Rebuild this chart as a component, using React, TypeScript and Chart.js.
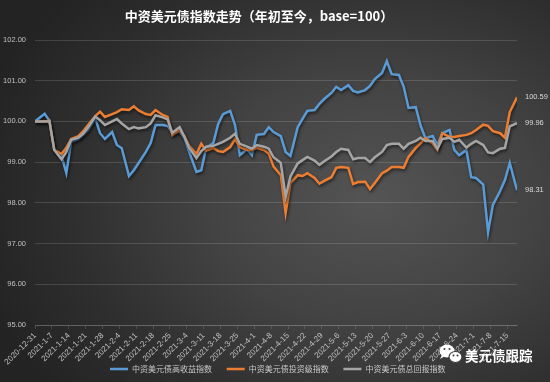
import React, { useEffect, useRef } from 'react';
import { Chart, registerables } from 'chart.js';

Chart.register(...registerables);

const title = '中资美元债指数走势（年初至今，base=100）';
const watermark = '美元债跟踪';

const dates = [
  '2020-12-31',
  '2021-1-4', '2021-1-6', '2021-1-8',
  '2021-1-11', '2021-1-13', '2021-1-15',
  '2021-1-18', '2021-1-20', '2021-1-22',
  '2021-1-25', '2021-1-27', '2021-1-29',
  '2021-2-1', '2021-2-3', '2021-2-5',
  '2021-2-8', '2021-2-10', '2021-2-12',
  '2021-2-15', '2021-2-17', '2021-2-19',
  '2021-2-22', '2021-2-24', '2021-2-26',
  '2021-3-1', '2021-3-3', '2021-3-5',
  '2021-3-8', '2021-3-10', '2021-3-12',
  '2021-3-15', '2021-3-17', '2021-3-19',
  '2021-3-22', '2021-3-24', '2021-3-26',
  '2021-3-29', '2021-3-31', '2021-4-2',
  '2021-4-5', '2021-4-7', '2021-4-9',
  '2021-4-12', '2021-4-14', '2021-4-16',
  '2021-4-19', '2021-4-21', '2021-4-23',
  '2021-4-26', '2021-4-28', '2021-4-30',
  '2021-5-3', '2021-5-5', '2021-5-7',
  '2021-5-10', '2021-5-12', '2021-5-14',
  '2021-5-17', '2021-5-19', '2021-5-21',
  '2021-5-24', '2021-5-26', '2021-5-28',
  '2021-5-31', '2021-6-2', '2021-6-4',
  '2021-6-7', '2021-6-9', '2021-6-11',
  '2021-6-14', '2021-6-16', '2021-6-18',
  '2021-6-21', '2021-6-23', '2021-6-25',
  '2021-6-28', '2021-6-30', '2021-7-2',
  '2021-7-5', '2021-7-7', '2021-7-9',
  '2021-7-12', '2021-7-14', '2021-7-16',
  '2021-7-19',
];

const tickLabels = [
  '2020-12-31', '2021-1-7', '2021-1-14', '2021-1-21', '2021-1-28',
  '2021-2-4', '2021-2-11', '2021-2-18', '2021-2-25', '2021-3-4',
  '2021-3-11', '2021-3-18', '2021-3-25', '2021-4-1', '2021-4-8',
  '2021-4-15', '2021-4-22', '2021-4-29', '2021-5-6', '2021-5-13',
  '2021-5-20', '2021-5-27', '2021-6-3', '2021-6-10', '2021-6-17',
  '2021-6-24', '2021-7-1', '2021-7-8', '2021-7-15',
];

const seriesNames = ['中资美元债高收益指数', '中资美元债投资级指数', '中资美元债总回报指数'];

const highYield = [
  100.00,
  100.19, 100.02, 99.30,
  99.15, 98.73, 99.50,
  99.57, 99.67, 99.79,
  100.07, 99.71, 99.57,
  99.74, 99.42, 99.34,
  98.66, 98.80, 98.98,
  99.25, 99.47, 99.91,
  99.91, 99.89, 99.72,
  99.75, 99.59, 99.25,
  98.76, 98.80, 99.35,
  99.47, 99.94, 100.18,
  100.26, 99.91, 99.17,
  99.32, 99.17, 99.67,
  99.69, 99.86, 99.74,
  99.64, 99.25, 99.15,
  99.86, 100.06, 100.26,
  100.28, 100.43, 100.55,
  100.70, 100.85, 100.77,
  100.89, 100.75, 100.71,
  100.77, 100.87, 101.04,
  101.19, 101.48, 101.16,
  101.14, 100.85, 100.33,
  100.35, 99.90, 99.59,
  99.64, 99.42, 99.71,
  99.79, 99.30, 99.17,
  99.30, 98.63, 98.61,
  98.45, 97.28, 97.95,
  98.29, 98.56, 98.98,
  98.31,
];

const investmentGrade = [
  100.00,
  100.00, 100.02, 99.30,
  99.20, 99.35, 99.57,
  99.64, 99.76, 99.91,
  100.13, 100.24, 100.11,
  100.18, 100.23, 100.30,
  100.28, 100.37, 100.27,
  100.18, 100.16, 100.28,
  100.16, 100.11, 99.67,
  99.79, 99.64, 99.40,
  99.20, 99.45, 99.28,
  99.35, 99.27, 99.25,
  99.37, 99.57, 99.37,
  99.30, 99.30, 99.35,
  99.30, 99.21, 98.89,
  98.68, 97.75, 98.49,
  98.68, 98.66, 98.73,
  98.61, 98.47, 98.54,
  98.63, 98.86, 98.88,
  98.86, 98.46, 98.51,
  98.52, 98.34, 98.49,
  98.73, 98.79, 98.88,
  98.88, 98.86, 99.13,
  99.35, 99.47, 99.59,
  99.46, 99.30, 99.71,
  99.62, 99.62, 99.64,
  99.67, 99.71, 99.79,
  99.92, 99.89, 99.76,
  99.71, 99.60, 100.23,
  100.59,
];

const totalReturn = [
  100.00,
  100.00, 100.00, 99.30,
  99.07, 99.25, 99.55,
  99.60, 99.70, 99.85,
  100.12, 100.03, 99.91,
  100.00, 100.06, 99.95,
  99.81, 99.86, 99.83,
  99.86, 99.95, 100.15,
  100.10, 100.05, 99.72,
  99.86, 99.62, 99.35,
  99.10, 99.27, 99.38,
  99.40, 99.45, 99.50,
  99.60, 99.70, 99.45,
  99.38, 99.33, 99.42,
  99.38, 99.33, 99.12,
  98.98, 98.15, 98.65,
  98.97, 99.05, 99.13,
  99.04, 98.93, 99.02,
  99.14, 99.25, 99.33,
  99.30, 99.07, 99.10,
  99.10, 99.00, 99.12,
  99.25, 99.42, 99.45,
  99.45, 99.33, 99.45,
  99.52, 99.60, 99.52,
  99.52, 99.33, 99.57,
  99.60, 99.50, 99.55,
  99.36, 99.45, 99.52,
  99.42, 99.24, 99.22,
  99.33, 99.35, 99.88,
  99.96,
];

const yMin = 95;
const yMax = 102;
const yStep = 1;

const seriesColors = ['#5b9bd5', '#ed7d31', '#a5a5a5'];

const dayOf = (s: string) => {
  const [y, m, d] = s.split('-').map(Number);
  return (Date.UTC(y, m - 1, d) - Date.UTC(2020, 11, 31)) / 86400000;
};

const FONT = '"Noto Sans CJK SC", "Liberation Sans", sans-serif';
const NUM_FONT = '"Liberation Sans", sans-serif';

const shadowPlugin = {
  id: 'lineShadow',
  beforeDatasetDraw(chart: any) {
    const ctx = chart.ctx;
    ctx.save();
    ctx.shadowColor = 'rgba(0,0,0,0.55)';
    ctx.shadowBlur = 3;
    ctx.shadowOffsetX = 1;
    ctx.shadowOffsetY = 2;
  },
  afterDatasetDraw(chart: any) {
    chart.ctx.restore();
  },
};

const decorPlugin = {
  id: 'decor',
  afterDraw(chart: any) {
    const ctx = chart.ctx;
    const area = chart.chartArea;
    const yScale = chart.scales.y;
    ctx.save();
    // title
    ctx.fillStyle = '#ffffff';
    ctx.font = `bold 13px ${FONT}`;
    ctx.textAlign = 'center';
    ctx.textBaseline = 'middle';
    ctx.fillText(title, 259, 16);

    // end labels
    ctx.font = `7.5px ${NUM_FONT}`;
    ctx.textAlign = 'left';
    ctx.fillStyle = '#d9d9d9';
    chart.data.datasets.forEach((ds: any) => {
      const last = ds.data[ds.data.length - 1];
      const y = yScale.getPixelForValue(last.y);
      ctx.fillText(last.y.toFixed(2), area.right + 8, y);
    });

    // legend
    ctx.font = `8px ${FONT}`;
    chart.data.datasets.forEach((ds: any, i: number) => {
      const x0 = 110 + i * 116.7;
      const y = 369;
      ctx.strokeStyle = ds.borderColor;
      ctx.lineWidth = 2.5;
      ctx.beginPath();
      ctx.moveTo(x0, y);
      ctx.lineTo(x0 + 18, y);
      ctx.stroke();
      ctx.fillStyle = '#c8c8c8';
      ctx.fillText(ds.label, x0 + 22, y);
    });

    // watermark icon
    ctx.fillStyle = '#ffffff';
    ctx.strokeStyle = '#3a3a3a';
    ctx.lineWidth = 1.2;
    ctx.beginPath();
    ctx.ellipse(447, 351, 7.5, 6.5, 0, 0, Math.PI * 2);
    ctx.fill();
    ctx.beginPath();
    ctx.moveTo(442, 355);
    ctx.lineTo(440, 359);
    ctx.lineTo(445, 356);
    ctx.fill();
    ctx.beginPath();
    ctx.ellipse(455.5, 357, 6.5, 5.5, 0, 0, Math.PI * 2);
    ctx.fill();
    ctx.stroke();
    ctx.fillStyle = '#3a3a3a';
    [[444.5, 349], [449.5, 349], [453.5, 355.5], [457.5, 355.5]].forEach(([x, y]) => {
      ctx.beginPath();
      ctx.arc(x, y, 1, 0, Math.PI * 2);
      ctx.fill();
    });
    ctx.fillStyle = '#ffffff';
    ctx.font = `bold 13.5px ${FONT}`;
    ctx.textAlign = 'left';
    ctx.fillText(watermark, 465, 356);
    ctx.restore();
  },
};

export default function App() {
  const ref = useRef<HTMLCanvasElement | null>(null);

  useEffect(() => {
    if (!ref.current) return;
    const days = dates.map(dayOf);
    const series = [highYield, investmentGrade, totalReturn];
    const tickDays = tickLabels.map(dayOf);
    const chart = new Chart(ref.current, {
      type: 'line',
      data: {
        datasets: series.map((vals, i) => ({
          label: seriesNames[i],
          data: vals.map((v, j) => ({ x: days[j], y: v })),
          borderColor: seriesColors[i],
          backgroundColor: seriesColors[i],
          borderWidth: 2.5,
          pointRadius: 0,
          tension: 0,
          order: 2 - i,
        })),
      },
      options: {
        animation: false,
        responsive: false,
        devicePixelRatio: 1,
        layout: { padding: { top: 40, right: 33, bottom: 0, left: 0 } },
        plugins: {
          legend: { display: false },
          title: { display: false },
          tooltip: { enabled: false },
        },
        scales: {
          x: {
            type: 'linear',
            min: 0,
            max: days[days.length - 1],
            afterBuildTicks(scale: any) {
              scale.ticks = tickDays.map((d) => ({ value: d }));
            },
            afterFit(scale: any) {
              scale.height = 57;
            },
            ticks: {
              autoSkip: false,
              maxRotation: 45,
              minRotation: 45,
              padding: 2,
              color: '#c0c0c0',
              font: { size: 8, family: NUM_FONT },
              callback: (_v: any, i: number) => tickLabels[i],
            },
            grid: {
              drawOnChartArea: false,
              drawTicks: true,
              tickLength: 4,
              color: 'rgba(255,255,255,0.14)',
            },
            border: { display: true, color: 'rgba(255,255,255,0.14)' },
          },
          y: {
            min: yMin,
            max: yMax,
            afterFit(scale: any) {
              scale.width = 35;
            },
            ticks: {
              stepSize: yStep,
              padding: 9,
              color: '#c0c0c0',
              font: { size: 7.5, family: NUM_FONT },
              callback: (v: any) => Number(v).toFixed(2),
            },
            grid: {
              drawTicks: false,
              color: 'rgba(255,255,255,0.14)',
            },
            border: { display: false },
          },
        },
      },
      plugins: [shadowPlugin, decorPlugin],
    });
    return () => chart.destroy();
  }, []);

  return (
    <div
      style={{
        position: 'fixed',
        left: 0,
        top: 0,
        width: 550,
        height: 382,
        background:
          'radial-gradient(ellipse 75% 80% at 68% 52%, #545454 0%, #434343 40%, #2e2e2e 75%, #232323 100%)',
      }}
    >
      <canvas ref={ref} width={550} height={382} style={{ display: 'block' }} />
    </div>
  );
}
